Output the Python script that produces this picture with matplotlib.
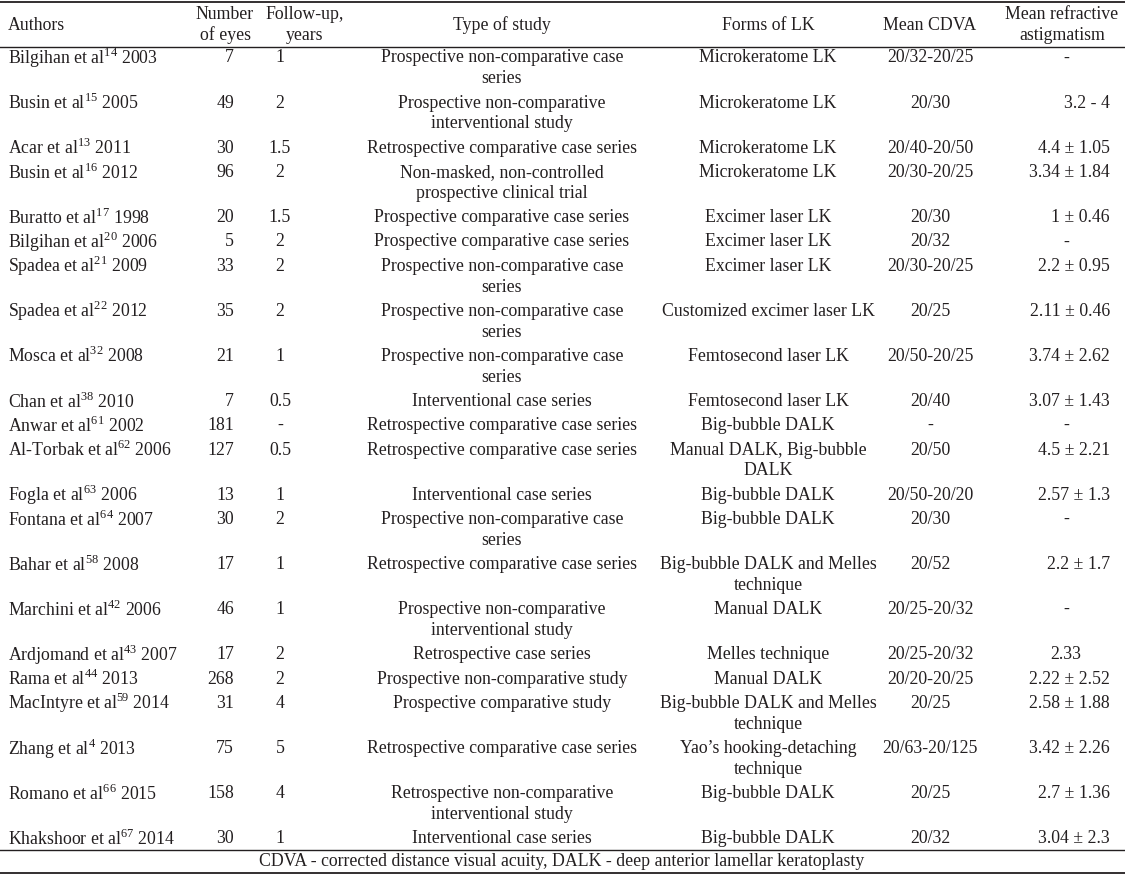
import matplotlib
matplotlib.use("Agg")
import matplotlib.pyplot as plt

plt.rcParams['font.family'] = ['Liberation Serif', 'DejaVu Serif']
plt.rcParams['mathtext.fontset'] = 'custom'
plt.rcParams['mathtext.rm'] = 'Liberation Serif'

# Table data
headers = ["Authors", "Number\nof eyes", "Follow-up,\nyears", "Type of study",
           "Forms of LK", "Mean CDVA", "Mean refractive\nastigmatism"]
authors = ["Bilgihan et al", "Busin et al", "Acar et al", "Busin et al", "Buratto et al",
           "Bilgihan et al", "Spadea et al", "Spadea et al", "Mosca et al", "Chan et al",
           "Anwar et al", "Al-Torbak et al", "Fogla et al", "Fontana et al", "Bahar et al",
           "Marchini et al", "Ardjomand et al", "Rama et al", "MacIntyre et al", "Zhang et al",
           "Romano et al", "Khakshoor et al"]
refs = ["14", "15", "13", "16", "17", "20", "21", "22", "32", "38", "61", "62", "63", "64",
        "58", "42", "43", "44", "59", "4", "66", "67"]
years = ["2003", "2005", "2011", "2012", "1998", "2006", "2009", "2012", "2008", "2010",
         "2002", "2006", "2006", "2007", "2008", "2006", "2007", "2013", "2014", "2013",
         "2015", "2014"]
eyes = ["7", "49", "30", "96", "20", "5", "33", "35", "21", "7", "181", "127", "13", "30",
        "17", "46", "17", "268", "31", "75", "158", "30"]
follow_up = ["1", "2", "1.5", "2", "1.5", "2", "2", "2", "1", "0.5", "-", "0.5", "1", "2",
             "1", "1", "2", "2", "4", "5", "4", "1"]
study = ["Prospective non-comparative case\nseries",
         "Prospective non-comparative\ninterventional study",
         "Retrospective comparative case series",
         "Non-masked, non-controlled\nprospective clinical trial",
         "Prospective comparative case series",
         "Prospective comparative case series",
         "Prospective non-comparative case\nseries",
         "Prospective non-comparative case\nseries",
         "Prospective non-comparative case\nseries",
         "Interventional case series",
         "Retrospective comparative case series",
         "Retrospective comparative case series",
         "Interventional case series",
         "Prospective non-comparative case\nseries",
         "Retrospective comparative case series",
         "Prospective non-comparative\ninterventional study",
         "Retrospective case series",
         "Prospective non-comparative study",
         "Prospective comparative study",
         "Retrospective comparative case series",
         "Retrospective non-comparative\ninterventional study",
         "Interventional case series"]
forms = ["Microkeratome LK", "Microkeratome LK", "Microkeratome LK", "Microkeratome LK",
         "Excimer laser LK", "Excimer laser LK", "Excimer laser LK",
         "Customized excimer laser LK", "Femtosecond laser LK", "Femtosecond laser LK",
         "Big-bubble DALK", "Manual DALK, Big-bubble\nDALK", "Big-bubble DALK",
         "Big-bubble DALK", "Big-bubble DALK and Melles\ntechnique", "Manual DALK",
         "Melles technique", "Manual DALK", "Big-bubble DALK and Melles\ntechnique",
         "Yao\u2019s hooking-detaching\ntechnique", "Big-bubble DALK", "Big-bubble DALK"]
cdva = ["20/32-20/25", "20/30", "20/40-20/50", "20/30-20/25", "20/30", "20/32",
        "20/30-20/25", "20/25", "20/50-20/25", "20/40", "-", "20/50", "20/50-20/20",
        "20/30", "20/52", "20/25-20/32", "20/25-20/32", "20/20-20/25", "20/25",
        "20/63-20/125", "20/25", "20/32"]
astig = ["-", "3.2 - 4", "4.4 \u00b1 1.05", "3.34 \u00b1 1.84", "1 \u00b1 0.46", "-",
         "2.2 \u00b1 0.95", "2.11 \u00b1 0.46", "3.74 \u00b1 2.62", "3.07 \u00b1 1.43", "-",
         "4.5 \u00b1 2.21", "2.57 \u00b1 1.3", "-", "2.2 \u00b1 1.7", "-", "2.33",
         "2.22 \u00b1 2.52", "2.58 \u00b1 1.88", "3.42 \u00b1 2.26", "2.7 \u00b1 1.36",
         "3.04 \u00b1 2.3"]
footnote = "CDVA - corrected distance visual acuity, DALK - deep anterior lamellar keratoplasty"

W, H = 1125, 874
fig = plt.figure(figsize=(W / 100, H / 100), dpi=100)
ax = fig.add_axes([0, 0, 1, 1])
ax.set_xlim(0, W)
ax.set_ylim(H, 0)
ax.axis("off")

fs = 12.8
col = "#231f20"
line_h = 20.8
row_h = 24.3


def put(x, y, s, ha):
    for i, part in enumerate(s.split("\n")):
        ax.text(x, y + i * line_h, part, ha=ha, va="center", fontsize=fs, color=col)


# rules
ax.plot([0, W], [1.5, 1.5], color=col, lw=1.3)
ax.plot([0, W], [47, 47], color=col, lw=1.0)
ax.plot([0, W], [850, 850], color=col, lw=1.0)
ax.plot([0, W], [872.5, 872.5], color=col, lw=1.3)

# header
hx = [8, 225, 305, 502, 768, 930, 1062]
hha = ["left", "center", "center", "center", "center", "center", "center"]
for x, h, a in zip(hx, headers, hha):
    n = h.count("\n")
    put(x, 25 - n * line_h / 2, h, a)

# body
y = 58
for i in range(len(authors)):
    ax.text(8, y, authors[i] + r"$^{\mathrm{" + refs[i] + "}}$ " + years[i],
            ha="left", va="center", fontsize=fs, color=col)
    put(234, y, eyes[i], "right")
    put(280, y, follow_up[i], "center")
    put(502, y, study[i], "center")
    put(768, y, forms[i], "center")
    put(930, y, cdva[i], "center")
    if "\u00b1" in astig[i] or " - " in astig[i]:
        put(1110, y, astig[i], "right")
    else:
        put(1066, y, astig[i], "center")
    n = max(s[i].count("\n") for s in (study, forms))
    y += row_h + n * line_h

put(562, 861, footnote, "center")

fig.savefig("out.png", dpi=100)
